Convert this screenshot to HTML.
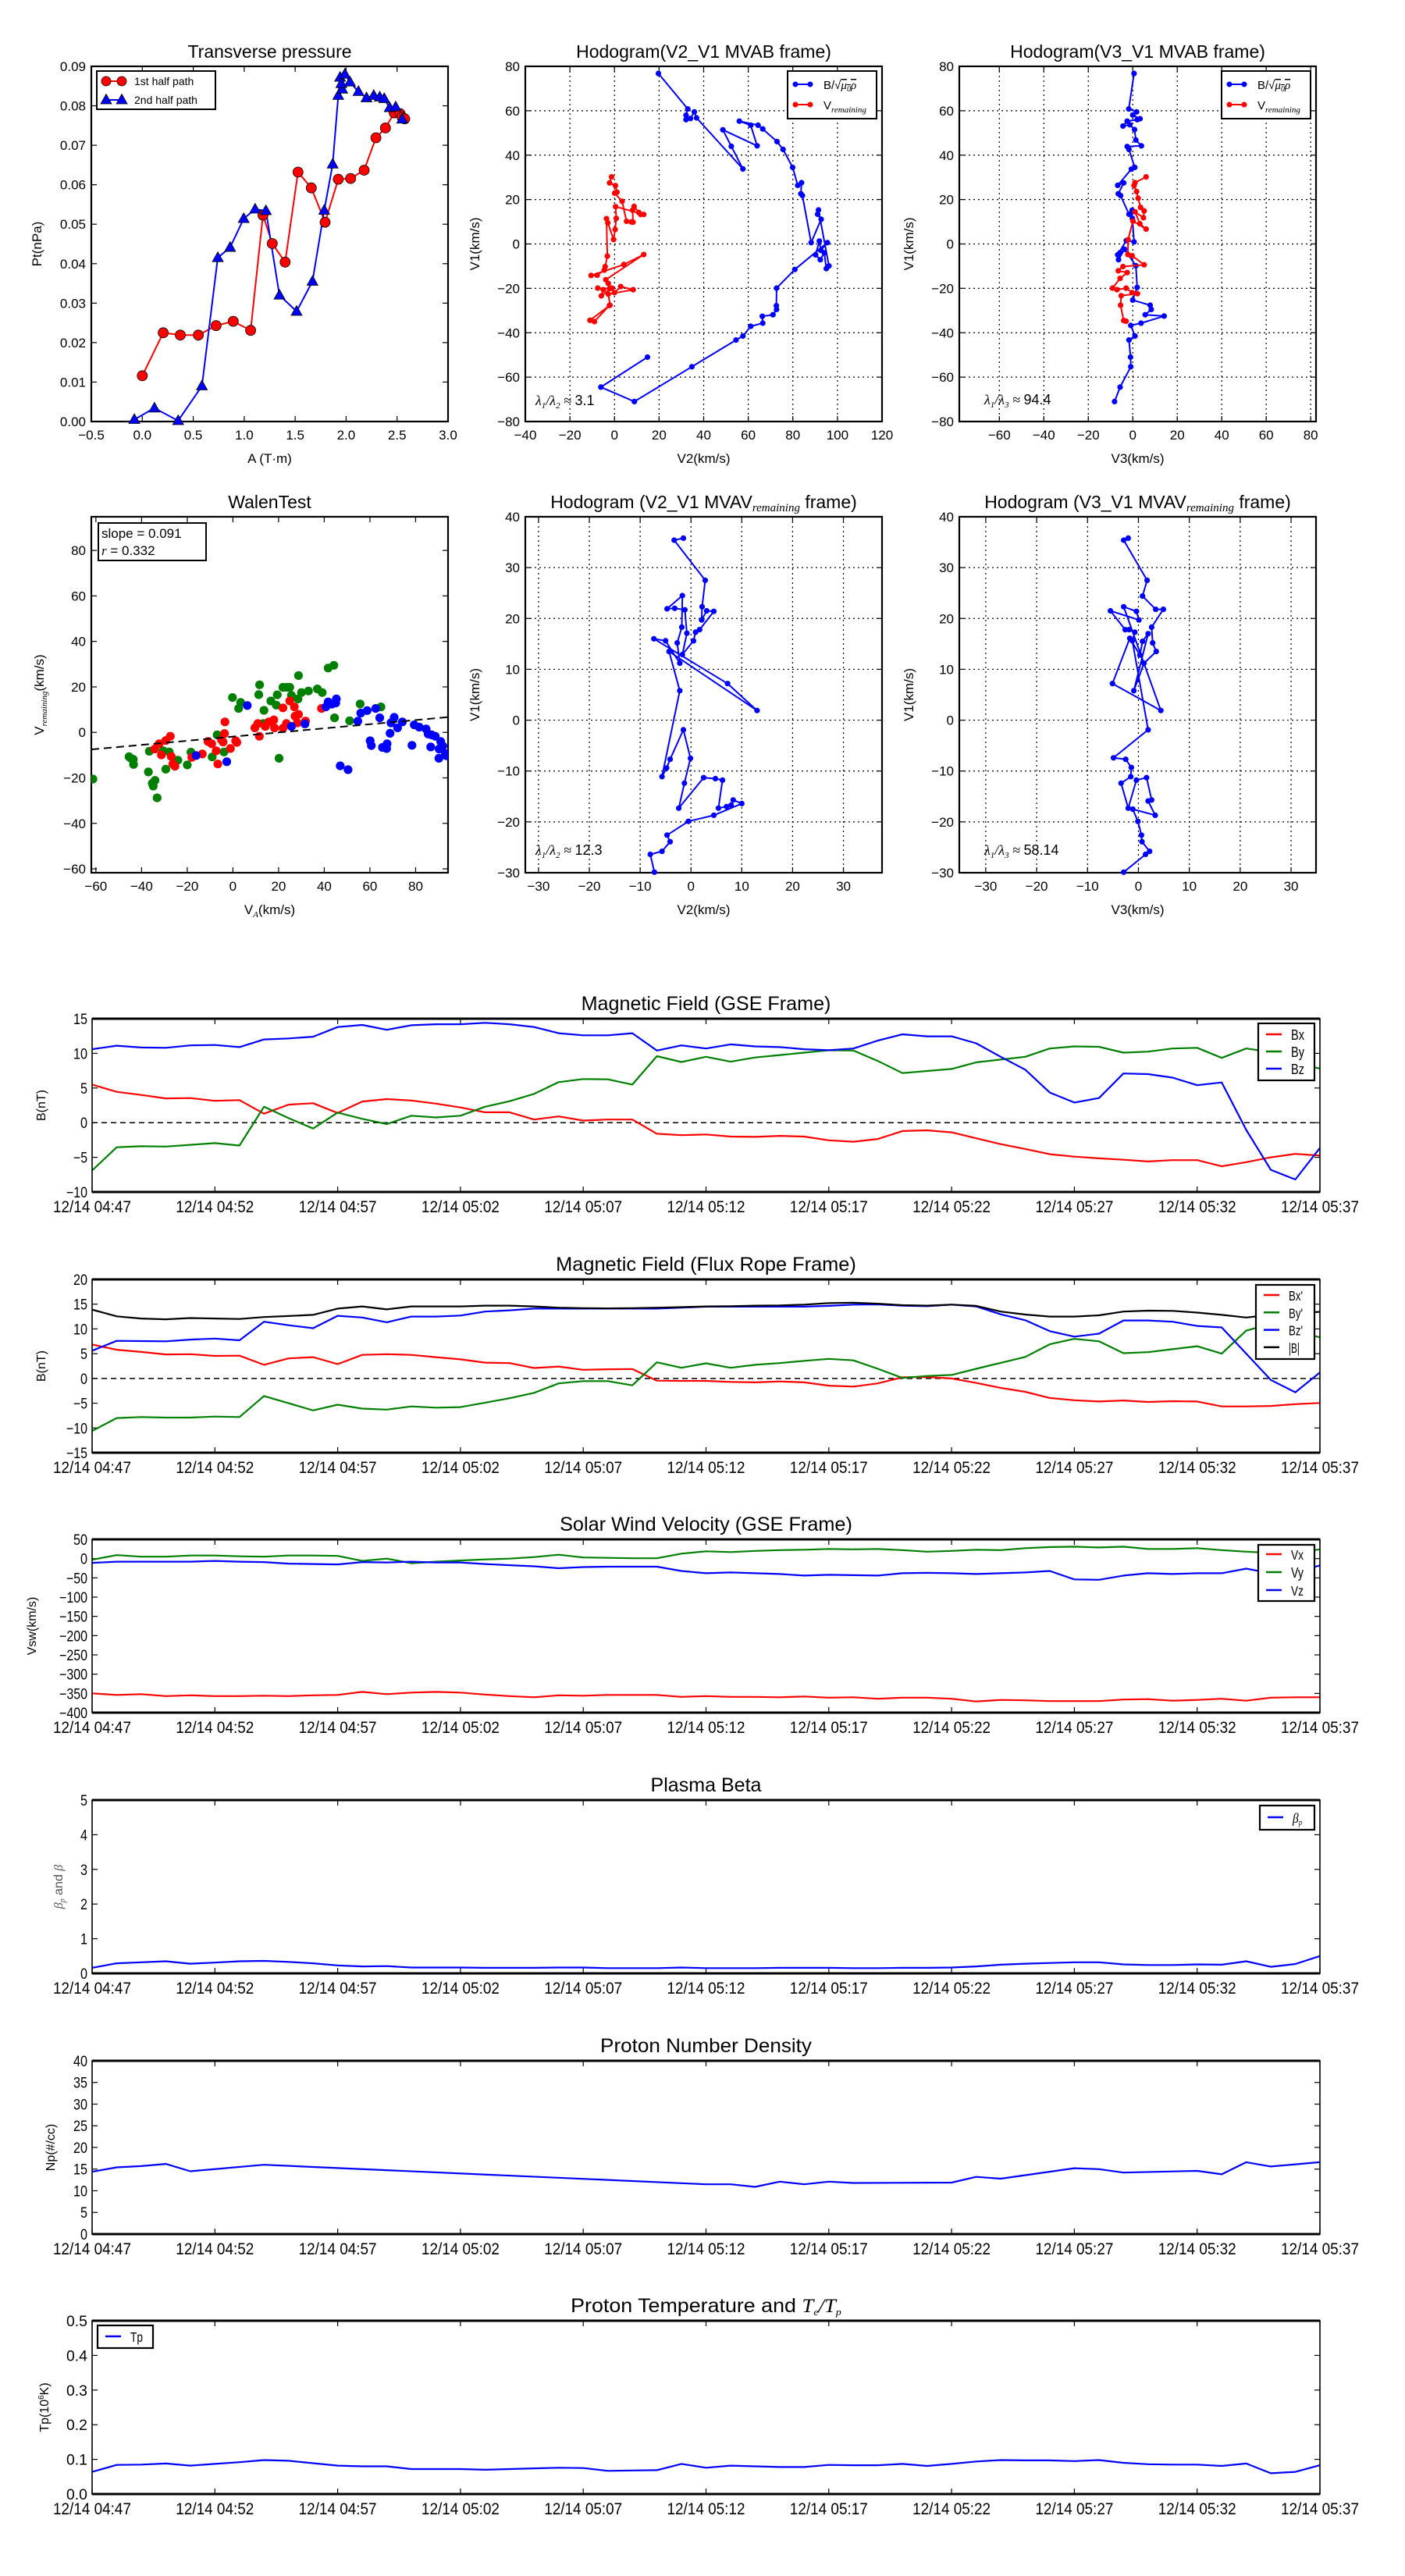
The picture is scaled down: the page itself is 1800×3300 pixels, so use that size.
<!DOCTYPE html>
<html><head><meta charset="utf-8"><title>Flux rope analysis</title>
<style>
html,body{margin:0;padding:0;background:#fff;}
svg{display:block;font-family:"Liberation Sans",sans-serif;}
</style></head>
<body>
<svg id="chart" width="1800" height="3300" viewBox="0 0 1800 3300" xmlns="http://www.w3.org/2000/svg"></svg>
<script>
// ---------- data: transverse pressure ----------
const pt1A = [0.0,0.205,0.373,0.55,0.724,0.892,1.063,1.184,1.275,1.402,1.528,1.658,1.794,1.923,2.044,2.177,2.292,2.386,2.472,2.53,2.55,2.575];
const pt1P = [0.0116,0.0225,0.0219,0.0219,0.0243,0.0254,0.0231,0.0523,0.0451,0.0404,0.0632,0.0592,0.0505,0.0614,0.0616,0.0637,0.0719,0.0744,0.0782,0.078,0.0771,0.0767];
const pt2A = [-0.078,0.119,0.352,0.585,0.741,0.862,0.995,1.107,1.213,1.346,1.514,1.67,1.785,1.868,1.923,1.941,1.962,1.953,1.988,2.038,2.121,2.2,2.271,2.33,2.374,2.427,2.486,2.55];
const pt2P = [0.0005,0.0034,0.0002,0.009,0.0415,0.0441,0.0514,0.0538,0.0534,0.032,0.0279,0.0355,0.0535,0.0652,0.0826,0.0872,0.0842,0.0856,0.088,0.086,0.0836,0.082,0.0826,0.0822,0.0818,0.0795,0.0797,0.0766];
// ---------- data: MVAB hodograms ----------
const hbV2 = [19.7,32.9,32.1,32.1,34.1,35.8,36.8,57.6,52.4,48.6,64,61.1,56,64.4,66.5,72.9,75.6,79.9,82.2,83.9,83.6,84.3,88.2,92.7,91.1,91.5,96.2,95,94.1,92.3,90.2,91.9,92.5,95.5,80.9,72.7,72.6,72.7,71.1,66.3,66.5,61.1,57.6,54.5,34.7,8.9,-6.1,14.8];
const hbV1 = [76.8,60.8,58,56,56.5,59.5,56.8,33.8,44,51.4,44.2,53.5,55.3,53.5,51.8,46.1,42.6,34.5,26.4,27.6,22.6,21.8,0.6,11.1,13.4,15.3,-9.9,-11.1,-4,-7.1,-4.9,1.3,-2.9,0.6,-11.5,-19.9,-27.8,-29.5,-31.9,-32.6,-35.7,-37.1,-41.5,-43.3,-55.3,-71,-64.5,-51];
const hvV2 = [-1.3,-2.2,0.4,1.1,0.1,3.4,5.4,7.5,8.3,8.1,8.8,10.9,11.7,13.1,0.5,0.8,0.3,-0.4,-3,-3.6,-3.2,-4.2,-4.6,-7.8,-10.5,4.2,13.1,-3.9,-2.8,-2.2,-7.5,-5,-5.9,-1.2,0,2.8,8.4,-2.8,-2,-11,-9,-2.3];
const hvV1 = [30.2,27.5,26.3,23.3,22.9,19.2,10.2,9.9,9.8,15.2,16.9,14.2,13.3,13.3,16.8,11.5,6.5,2,9.5,11.4,-5.5,-10.2,-11.8,-14.1,-14.2,-9.3,-4.8,-16.1,-17.8,-20.1,-19.9,-20.6,-23.4,-19.9,-21.9,-19.2,-20.6,-22.6,-27.6,-34.4,-35,-27.7];
const hbV3 = [0.6,-1.8,1.7,0,3.3,2,-2.5,-4.4,-1.3,0.8,1.4,3.9,-2.5,-1.7,0.9,-0.6,-6.8,-4.1,-6.5,-5.5,-1.7,-0.3,-0.2,0.6,-2.9,-6.8,-5.7,-6.4,-3.7,1.4,2,0,7.8,8.3,5.6,14.1,3.7,-0.9,1,-1.7,-1,-0.9,-5.7,-8.2];
const hbV1b = [76.8,60.8,59.5,58.1,56.4,56,55.3,53.1,53.7,51.5,46.8,44.2,43.9,42.6,34.5,33.7,26.4,27.5,22.6,21.8,13.4,15.2,11.5,0.9,1.5,-4.9,-3.9,-7.1,-2.4,-9.8,-19.6,-25.3,-27.6,-29.5,-31.9,-32.5,-35.7,-36.7,-41.5,-43.3,-51,-55.3,-64.5,-71];
const hvV3 = [6,1,0.6,1.7,2.4,3.5,5.1,4.8,1,3.2,6,0.1,-2.1,-2.2,-0.3,5.1,-4.4,-6.5,-2.5,-5.7,-9.1,-7.1,-3,-0.3,2.1,-5.2,-5.5,-4.1,-3];
const hvV1b = [30.2,27.6,26.3,23.6,20.6,16.5,14.9,11.8,14.5,9.1,6.7,10.3,1.9,-4.8,-5.3,-9.4,-10.2,-12.1,-12.9,-15.5,-19.9,-20.6,-19.9,-21.9,-22.4,-23.3,-27.6,-34.5,-34.8];
// ---------- data: MVAV hodograms ----------
const hrV2 = [-1.5,-3.3,2.8,2.2,2.1,3.1,4.5,1.7,0.9,0.5,-1.7,-0.8,-1.2,-3.2,-4.7,-1.7,-1.8,-2.7,-2.2,-5,-7.3,7.2,13,-4.3,-2.2,-5.7,-4.8,-4.1,-1.5,-0.1,-1.3,-2.4,2.5,4.8,6.2,5.4,7,7.9,8.3,10,4.5,-0.5,-4.7,-4.1,-5.7,-8,-7.2];
const hrV1 = [35.8,35.4,27.5,22.3,19.7,21.5,21.4,17.8,17.3,15.6,12.9,17.1,21.7,22,21.9,24.5,18.3,15.2,11.2,15.6,16,7.2,1.9,13.5,5.8,-11.1,-9.4,-7.7,-1.9,-7.5,-12.4,-17.3,-11.3,-11.5,-11.8,-17.3,-17,-16.7,-15.7,-16.4,-18.7,-19.9,-22.6,-23.9,-25.8,-26.4,-29.9];
const hrV3 = [-2,-2.9,1.7,0.8,3.4,4.9,2.6,2.8,3.5,1.1,-0.9,1.9,0.8,0.3,-1.7,-5.1,4.4,-2.9,-0.4,0.1,-5.5,-2.6,-1.8,-0.7,-1.2,1.9,-4.9,-2.5,-1.4,-1.5,-3.4,-2,-0.4,1.6,2.6,1.9,3.3,-1.1,-0.1,0.6,0.7,2.2,1.4,-2.9];
const hrV1b = [35.8,35.4,27.5,24.4,21.8,21.8,18.3,15.2,13.5,11.2,5.8,17,15.5,12.8,16.1,7.2,1.9,22.3,21.4,19.7,21.5,17.8,17.8,17.3,15.6,-1.9,-7.4,-7.7,-9.3,-11.1,-12.4,-17.3,-11.8,-11.3,-15.7,-15.9,-18.7,-17.5,-19.9,-22.6,-23.9,-25.8,-26.4,-29.9];
// ---------- data: Walen test ----------
const walGreenX = [-61.3,-45.5,-44.5,-43.6,-43.5,-36.6,-37,-35.3,-34.9,-34.1,-33.2,-30.5,-29.4,-27.9,-24.1,-20,-18.4,-9.1,-6.9,-3.9,-0.2,3.4,2.5,11.3,11.7,13.3,13.6,16.6,19,19.4,20.2,21.9,23.4,24.9,25.6,28.5,28.7,30,33.1,37,39.1,41.7,44.2,44.5,51.1,55.7,64.8];
const walGreenY = [-20.5,-10.7,-11.5,-11.9,-14.1,-8.3,-17.4,-22.4,-23.6,-21.1,-28.8,-8.1,-16.2,-8.6,-12.2,-14.3,-8.7,-10.8,-1.1,-8.6,15.3,13.2,10.5,16.6,20.9,3.9,9.7,13.8,12,16.5,-11.4,19.8,19.8,19.8,16.3,14.7,25,17.5,18.2,19.1,17.5,28.3,29.5,6.4,5.1,12.5,11.2];
const walRedX = [-3.5,-3.7,-4.3,-5,-1.1,1.2,1.7,-10.9,-9.3,-7.3,-6.6,-13.4,-18,-34.2,-32.3,-31.3,-29.4,-27.4,-27,-26.3,-25.4,9.6,10.9,11.6,14.2,15.7,17.9,18.2,21.9,21.9,23.4,24.9,26.9,27.2,28.7,28.2,31.8,38.8];
const walRedY = [4.6,-0.5,-4.2,-3.3,-7.1,-3.7,-4.4,-4,-5,-8.1,-13.9,-9.5,-11,-7.3,-5,-9.9,-3.6,-1.7,-10.6,-13.9,-14.9,2,3.9,-1.7,2.6,4.6,5.5,2,10.8,1.8,3.9,13.8,11.2,7.1,7.9,4.2,5,10.5];
const walBlueX = [-16.1,-2.7,6.3,25.6,31.5,40.7,41.7,43.3,45.3,45,47,50.4,54.7,56,58.8,60.1,60.6,62.5,64.3,65.5,67.3,67.5,68.8,69.2,70.6,72.1,74.2,78.4,79.4,81.6,84.6,85.5,87,88.6,86.6,91,90.3,91.9,90.2,93,93.5];
const walBlueY = [-10.2,-12.9,11.8,2.6,3.7,11.2,13.4,12.4,14.7,12.9,-14.7,-16.4,4.9,8.5,9.6,-3.7,-5.8,10.5,6.4,-6.6,-7.1,-5,-0.4,4.2,6.6,2,4.6,-5.7,3.3,2.3,1.5,-0.7,-1.1,-1.7,-6.4,-4,-7.3,-6,-11.4,-9.3,-10.3];
const walSlope = 0.091;
const walIntercept = -1.86;
// ---------- data: time series (1-min cadence, 12/14 04:47 - 05:37) ----------
const timeTicks = ['12/14 04:47','12/14 04:52','12/14 04:57','12/14 05:02','12/14 05:07','12/14 05:12','12/14 05:17','12/14 05:22','12/14 05:27','12/14 05:32','12/14 05:37'];
const gseBx = [5.5,4.45,4.0,3.5,3.55,3.15,3.25,1.3,2.6,2.8,1.4,3.05,3.4,3.2,2.75,2.2,1.5,1.5,0.45,0.9,0.3,0.45,0.45,-1.6,-1.8,-1.7,-2.0,-2.05,-1.9,-2.0,-2.55,-2.75,-2.35,-1.2,-1.1,-1.4,-2.25,-3.1,-3.8,-4.55,-4.9,-5.15,-5.35,-5.6,-5.4,-5.4,-6.3,-5.7,-5.0,-4.5,-4.75];
const gseBy = [-6.9,-3.55,-3.4,-3.45,-3.2,-2.95,-3.3,2.3,0.65,-0.85,1.45,0.55,-0.2,1.0,0.75,1.0,2.3,3.1,4.15,5.85,6.3,6.25,5.5,9.6,8.75,9.5,8.8,9.4,9.75,10.1,10.45,10.4,8.9,7.15,7.45,7.75,8.7,9.1,9.5,10.7,11.0,10.95,10.1,10.25,10.7,10.8,9.35,10.7,10.2,8.6,7.8];
const gseBz = [10.6,11.1,10.85,10.8,11.15,11.2,10.9,12.0,12.15,12.4,13.8,14.1,13.4,14.05,14.2,14.2,14.4,14.2,13.8,12.9,12.6,12.6,12.9,10.4,11.15,10.7,11.3,11.0,10.9,10.6,10.45,10.7,11.85,12.75,12.45,12.45,11.45,9.5,7.65,4.35,2.9,3.55,7.1,7.0,6.5,5.4,5.8,-1.05,-6.8,-8.2,-3.65];
const frBx = [6.85,5.8,5.35,4.85,4.9,4.55,4.6,2.75,4.05,4.3,2.9,4.75,4.9,4.75,4.3,3.85,3.2,3.1,2.1,2.4,1.75,1.85,1.9,-0.45,-0.5,-0.5,-0.7,-0.8,-0.6,-0.8,-1.45,-1.65,-1.0,0.25,0.3,0.0,-0.9,-1.9,-2.7,-3.95,-4.4,-4.65,-4.45,-4.75,-4.6,-4.65,-5.65,-5.65,-5.55,-5.2,-4.95];
const frBy = [-10.6,-8.0,-7.8,-7.9,-7.9,-7.7,-7.8,-3.55,-5.0,-6.45,-5.3,-6.1,-6.3,-5.65,-5.9,-5.8,-4.9,-4.0,-2.9,-1.0,-0.55,-0.55,-1.4,3.25,2.15,3.05,2.15,2.75,3.1,3.55,3.95,3.65,1.95,0.1,0.5,0.7,1.95,3.15,4.35,6.9,8.0,7.5,5.1,5.3,5.9,6.5,5.0,9.65,11.0,9.5,8.3];
const frBz = [5.6,7.6,7.55,7.5,7.85,8.05,7.7,11.45,10.75,10.15,12.65,12.3,11.35,12.5,12.5,12.7,13.5,13.75,14.1,14.1,14.1,14.1,14.1,14.1,14.3,14.5,14.5,14.5,14.5,14.5,14.65,14.9,14.95,14.7,14.6,14.9,14.55,12.95,11.75,9.55,8.45,9.05,11.7,11.7,11.45,10.6,10.3,5.0,-0.3,-2.8,1.2];
const frBt = [13.9,12.55,12.1,11.95,12.2,12.1,12.0,12.4,12.6,12.85,14.1,14.55,13.95,14.55,14.55,14.55,14.7,14.7,14.55,14.3,14.2,14.15,14.2,14.3,14.4,14.55,14.6,14.7,14.75,14.9,15.2,15.3,15.1,14.8,14.7,14.9,14.65,13.5,12.9,12.5,12.5,12.75,13.5,13.7,13.65,13.3,12.85,12.3,12.85,13.15,13.45];
const swVx = [-350,-354,-352,-357,-355,-357,-357,-356,-357,-355,-354,-346,-352,-348,-346,-348,-353,-357,-360,-355,-356,-354,-354,-354,-359,-357,-359,-359,-360,-358,-361,-360,-364,-361,-361,-364,-371,-367,-368,-370,-370,-370,-366,-365,-369,-367,-364,-369,-361,-360,-360];
const swVy = [-3,9,5,5,8,8,6,5,8,8,7,-6,0,-12,-8,-5,-2,0,4,10,3,2,1,1,13,19,17,20,22,23,25,24,25,22,18,20,23,22,27,30,31,29,31,25,25,27,22,18,15,16,24];
const swVz = [-11,-8,-8,-8,-8,-6,-8,-9,-13,-14,-15,-9,-10,-8,-10,-10,-14,-17,-20,-25,-22,-21,-21,-21,-32,-38,-36,-38,-40,-44,-42,-43,-44,-38,-37,-38,-40,-38,-36,-32,-54,-55,-44,-38,-40,-38,-38,-26,-38,-35,-18];
const betaP = [0.16,0.29,0.32,0.35,0.28,0.31,0.35,0.36,0.33,0.29,0.23,0.2,0.21,0.17,0.17,0.17,0.16,0.16,0.16,0.17,0.17,0.15,0.15,0.15,0.17,0.15,0.15,0.15,0.16,0.16,0.16,0.15,0.15,0.16,0.16,0.17,0.2,0.25,0.28,0.3,0.32,0.32,0.26,0.24,0.24,0.26,0.25,0.35,0.19,0.27,0.5];
const npDensity = [14.4,15.4,15.7,16.2,14.5,null,null,16.0,null,null,null,null,null,null,null,null,null,null,null,null,null,null,null,null,null,11.5,11.5,10.9,12.1,11.5,12.1,11.8,null,null,null,11.9,13.2,12.8,null,null,15.2,15.0,14.2,null,null,14.6,13.8,16.6,15.6,null,16.6];
const tpTemp = [0.064,0.084,0.085,0.088,0.082,0.087,0.092,0.098,0.096,0.089,0.082,0.080,0.080,0.072,0.072,0.072,0.070,0.072,0.074,0.076,0.075,0.067,0.068,0.069,0.087,0.076,0.082,0.080,0.078,0.078,0.084,0.083,0.083,0.087,0.081,0.087,0.094,0.098,0.097,0.097,0.095,0.098,0.090,0.086,0.085,0.085,0.081,0.088,0.060,0.064,0.083];

// ---------- helpers ----------
const NS = 'http://www.w3.org/2000/svg';
const svg = document.getElementById('chart');
const fitList = [];
function el(tag, attrs, parent, name) {
  const e = document.createElementNS(NS, tag);
  for (const k in attrs) e.setAttribute(k, attrs[k]);
  
  
  (parent || svg).appendChild(e);
  return e;
}
function txt(parent, x, y, s, size, anchor, name, extra) {
  const ex = Object.assign({}, extra || {});
  const fit = ex.fitLen; delete ex.fitLen;
  const a = Object.assign({x: x, y: y, 'font-size': size, 'text-anchor': anchor || 'middle', fill: '#000'}, ex);
  const t = el('text', a, parent, name);
  t.textContent = s;
  if (fit) fitList.push([t, fit, x, anchor || 'middle']);
  return t;
}
function applyFits() {
  fitList.forEach(f => {
    const t = f[0];
    let w = 0;
    try { w = t.getComputedTextLength(); } catch (e) { w = 0; }
    if (w > 0) {
      const k = f[1] / w;
      t.setAttribute('transform', 'translate(' + f[2] + ',0) scale(' + k.toFixed(4) + ',1) translate(' + (-f[2]) + ',0)');
    }
  });
}
function lin(d0, d1, r0, r1) { return v => r0 + (v - d0) * (r1 - r0) / (d1 - d0); }
function fmt(v, dec) { const s = v.toFixed(dec); return s.replace('-', '\u2212'); }
function polyline(g, xs, ys, sx, sy, color, w, name) {
  const pts = [];
  for (let i = 0; i < xs.length; i++) { if (ys[i] === null) continue; pts.push(sx(xs[i]).toFixed(1) + ',' + sy(ys[i]).toFixed(1)); }
  return el('polyline', {points: pts.join(' '), fill: 'none', stroke: color, 'stroke-width': w, 'stroke-linejoin': 'round'}, g, name);
}

// ---------- square scatter/hodogram axes ----------
function squareAxes(o) {
  const g = el('g', {}, svg, o.name);
  const sx = lin(o.xd[0], o.xd[1], o.x0, o.x1);
  const sy = lin(o.yd[0], o.yd[1], o.y1, o.y0);
  o.xt.forEach(v => {
    const X = sx(v);
    if (o.grid) el('line', {x1: X, x2: X, y1: o.y0, y2: o.y1, stroke: '#000', 'stroke-width': 1.2, 'stroke-dasharray': '2,4'}, g, 'grid-x');
    el('line', {x1: X, x2: X, y1: o.y1, y2: o.y1 - 7, stroke: '#000', 'stroke-width': 1.2}, g, 'x-tick');
    el('line', {x1: X, x2: X, y1: o.y0, y2: o.y0 + 7, stroke: '#000', 'stroke-width': 1.2}, g, 'x-tick-top');
    txt(g, X, o.y1 + 23, fmt(v, o.xdec), 17, 'middle', 'x-tick-label');
  });
  o.yt.forEach(v => {
    const Y = sy(v);
    if (o.grid) el('line', {x1: o.x0, x2: o.x1, y1: Y, y2: Y, stroke: '#000', 'stroke-width': 1.2, 'stroke-dasharray': '2,4'}, g, 'grid-y');
    el('line', {x1: o.x0, x2: o.x0 + 7, y1: Y, y2: Y, stroke: '#000', 'stroke-width': 1.2}, g, 'y-tick');
    el('line', {x1: o.x1, x2: o.x1 - 7, y1: Y, y2: Y, stroke: '#000', 'stroke-width': 1.2}, g, 'y-tick-right');
    txt(g, o.x0 - 7, Y + 6, fmt(v, o.ydec), 17, 'end', 'y-tick-label');
  });
  el('rect', {x: o.x0, y: o.y0, width: o.x1 - o.x0, height: o.y1 - o.y0, fill: 'none', stroke: '#000', 'stroke-width': 2.2}, g, 'plot-frame');
  const t = txt(g, (o.x0 + o.x1) / 2, o.y0 - 11, '', 23, 'middle', 'plot-title');
  t.innerHTML = o.title;
  const xl = txt(g, (o.x0 + o.x1) / 2, o.y1 + 53, '', 17, 'middle', 'x-axis-title');
  xl.innerHTML = o.xlabel;
  const yl = txt(g, 0, 0, '', 17, 'middle', 'y-axis-title', {transform: 'translate(' + o.ylx + ',' + ((o.y0 + o.y1) / 2) + ') rotate(-90)'});
  yl.innerHTML = o.ylabel;
  return {g: g, sx: sx, sy: sy};
}
function markers(g, xs, ys, sx, sy, color, r, name) {
  for (let i = 0; i < xs.length; i++) {
    el('circle', {cx: sx(xs[i]).toFixed(1), cy: sy(ys[i]).toFixed(1), r: r, fill: color, stroke: name.indexOf('circle-marker') >= 0 ? '#000' : 'none', 'stroke-width': 0.8}, g, name);
  }
}
function triangles(g, xs, ys, sx, sy, color, name) {
  for (let i = 0; i < xs.length; i++) {
    const X = sx(xs[i]), Y = sy(ys[i]);
    el('polygon', {points: (X) + ',' + (Y - 7.5) + ' ' + (X - 7) + ',' + (Y + 5) + ' ' + (X + 7) + ',' + (Y + 5), fill: color, stroke: '#000', 'stroke-width': 0.8}, g, name);
  }
}
const seq = (a, b, s) => { const r = []; for (let v = a; v <= b + 1e-9; v += s) r.push(+v.toFixed(6)); return r; };
const BSQ = 'B/\u221A<tspan font-family="Liberation Serif" font-style="italic" text-decoration="overline">\u03BC<tspan font-size="10" dy="3">0</tspan><tspan dy="-3">\u03C1</tspan></tspan>';
const VREM = 'V<tspan font-family="Liberation Serif" font-style="italic" font-size="11" dy="4">remaining</tspan>';
function hodoLegend(g, x, y, twoEntries) {
  const b = el('g', {}, g, 'legend');
  el('rect', {x: x, y: y, width: 114, height: twoEntries ? 61 : 34, fill: '#fff', stroke: '#000', 'stroke-width': 2}, b, 'legend-frame');
  el('line', {x1: x + 8, x2: x + 31, y1: y + 17, y2: y + 17, stroke: '#0000ff', 'stroke-width': 2}, b, 'legend-line-b');
  el('circle', {cx: x + 10, cy: y + 17, r: 3.5, fill: '#0000ff'}, b, 'legend-marker-b');
  el('circle', {cx: x + 29, cy: y + 17, r: 3.5, fill: '#0000ff'}, b, 'legend-marker-b');
  const t1 = txt(b, x + 46, y + 23, '', 15, 'start', 'legend-entry-b-alfven');
  t1.innerHTML = BSQ;
  if (twoEntries) {
    el('line', {x1: x + 8, x2: x + 31, y1: y + 43, y2: y + 43, stroke: '#ff0000', 'stroke-width': 2}, b, 'legend-line-v');
    el('circle', {cx: x + 10, cy: y + 43, r: 3.5, fill: '#ff0000'}, b, 'legend-marker-v');
    el('circle', {cx: x + 29, cy: y + 43, r: 3.5, fill: '#ff0000'}, b, 'legend-marker-v');
    const t2 = txt(b, x + 46, y + 49, '', 15, 'start', 'legend-entry-v-remaining');
    t2.innerHTML = VREM;
  }
}
function lambdaNote(g, x, y, a, b, val) {
  const t = txt(g, x, y, '', 18, 'start', 'eigenvalue-ratio-label');
  t.innerHTML = '<tspan font-family="Liberation Serif" font-style="italic">\u03BB<tspan font-size="11" dy="4">' + a + '</tspan><tspan dy="-4">/\u03BB</tspan><tspan font-size="11" dy="4">' + b + '</tspan><tspan dy="-4"> \u2248 </tspan></tspan>' + val;
}

// ----- Transverse pressure -----
(function () {
  const a = squareAxes({name: 'transverse-pressure-panel', x0: 117, x1: 574, y0: 85, y1: 540, xd: [-0.5, 3.0], yd: [0, 0.09], xt: seq(-0.5, 3.0, 0.5), yt: seq(0, 0.09, 0.01), xdec: 1, ydec: 2, title: 'Transverse pressure', xlabel: 'A (T\u00B7m)', ylabel: 'Pt(nPa)', ylx: 53});
  polyline(a.g, pt1A, pt1P, a.sx, a.sy, '#ff0000', 2, 'first-half-path-line');
  polyline(a.g, pt2A, pt2P, a.sx, a.sy, '#0000ff', 2, 'second-half-path-line');
  markers(a.g, pt1A, pt1P, a.sx, a.sy, '#ff0000', 6.5, 'circle-marker-first-half');
  triangles(a.g, pt2A, pt2P, a.sx, a.sy, '#0000ff', 'triangle-marker-second-half');
  const lg = el('g', {}, a.g, 'legend');
  el('rect', {x: 124, y: 91, width: 152, height: 49, fill: '#fff', stroke: '#000', 'stroke-width': 2}, lg, 'legend-frame');
  el('line', {x1: 134, x2: 157, y1: 104, y2: 104, stroke: '#ff0000', 'stroke-width': 2}, lg, 'legend-line-first');
  el('circle', {cx: 136, cy: 104, r: 6, fill: '#ff0000', stroke: '#000', 'stroke-width': 0.8}, lg, 'legend-marker-first');
  el('circle', {cx: 156, cy: 104, r: 6, fill: '#ff0000', stroke: '#000', 'stroke-width': 0.8}, lg, 'legend-marker-first');
  txt(lg, 172, 109, '1st half path', 14, 'start', 'legend-entry-first-half');
  el('line', {x1: 134, x2: 157, y1: 128, y2: 128, stroke: '#0000ff', 'stroke-width': 2}, lg, 'legend-line-second');
  triangles(lg, [0], [0], v => 136, v => 128, '#0000ff', 'legend-marker-second');
  triangles(lg, [0], [0], v => 156, v => 128, '#0000ff', 'legend-marker-second');
  txt(lg, 172, 133, '2nd half path', 14, 'start', 'legend-entry-second-half');
})();

// ----- Hodogram V2_V1 MVAB -----
(function () {
  const a = squareAxes({name: 'hodogram-v2-v1-mvab-panel', x0: 673, x1: 1130, y0: 85, y1: 540, xd: [-40, 120], yd: [-80, 80], xt: seq(-40, 120, 20), yt: seq(-80, 80, 20), xdec: 0, ydec: 0, grid: true, title: 'Hodogram(V2_V1 MVAB frame)', xlabel: 'V2(km/s)', ylabel: 'V1(km/s)', ylx: 614});
  polyline(a.g, hbV2, hbV1, a.sx, a.sy, '#0000ff', 2, 'alfven-b-path');
  markers(a.g, hbV2, hbV1, a.sx, a.sy, '#0000ff', 3.6, 'alfven-b-point');
  polyline(a.g, hvV2, hvV1, a.sx, a.sy, '#ff0000', 2, 'v-remaining-path');
  markers(a.g, hvV2, hvV1, a.sx, a.sy, '#ff0000', 3.6, 'v-remaining-point');
  hodoLegend(a.g, 1009, 91, true);
  lambdaNote(a.g, 686, 519, '1', '2', '3.1');
})();

// ----- Hodogram V3_V1 MVAB -----
(function () {
  const a = squareAxes({name: 'hodogram-v3-v1-mvab-panel', x0: 1229, x1: 1686, y0: 85, y1: 540, xd: [-78, 82.4], yd: [-80, 80], xt: seq(-60, 80, 20), yt: seq(-80, 80, 20), xdec: 0, ydec: 0, grid: true, title: 'Hodogram(V3_V1 MVAB frame)', xlabel: 'V3(km/s)', ylabel: 'V1(km/s)', ylx: 1170});
  polyline(a.g, hbV3, hbV1b, a.sx, a.sy, '#0000ff', 2, 'alfven-b-path');
  markers(a.g, hbV3, hbV1b, a.sx, a.sy, '#0000ff', 3.6, 'alfven-b-point');
  polyline(a.g, hvV3, hvV1b, a.sx, a.sy, '#ff0000', 2, 'v-remaining-path');
  markers(a.g, hvV3, hvV1b, a.sx, a.sy, '#ff0000', 3.6, 'v-remaining-point');
  hodoLegend(a.g, 1565, 91, true);
  lambdaNote(a.g, 1261, 518, '1', '3', '94.4');
})();

// ----- Walen test -----
(function () {
  const a = squareAxes({name: 'walen-test-panel', x0: 117, x1: 574, y0: 662, y1: 1118, xd: [-62, 94.2], yd: [-61.7, 94.8], xt: seq(-60, 80, 20), yt: seq(-60, 80, 20), xdec: 0, ydec: 0, title: 'WalenTest', xlabel: 'V<tspan font-family="Liberation Serif" font-style="italic" font-size="11" dy="4">A</tspan><tspan dy="-4">(km/s)</tspan>', ylabel: 'V<tspan font-family="Liberation Serif" font-style="italic" font-size="11" dy="4">remaining</tspan><tspan dy="-4">(km/s)</tspan>', ylx: 56});
  const clip = el('clipPath', {id: 'walclip'}, a.g, 'walen-clip');
  el('rect', {x: 117, y: 662, width: 457, height: 456}, clip, 'walen-clip-rect');
  const pg = el('g', {'clip-path': 'url(#walclip)'}, a.g, 'walen-points');
  markers(pg, walGreenX, walGreenY, a.sx, a.sy, '#008000', 5.6, 'walen-point-green');
  markers(pg, walRedX, walRedY, a.sx, a.sy, '#ff0000', 5.6, 'walen-point-red');
  markers(pg, walBlueX, walBlueY, a.sx, a.sy, '#0000ff', 5.6, 'walen-point-blue');
  const fx = [-62, 94.2];
  const fy = fx.map(v => walSlope * v + walIntercept);
  el('line', {x1: a.sx(fx[0]), y1: a.sy(fy[0]), x2: a.sx(fx[1]), y2: a.sy(fy[1]), stroke: '#000', 'stroke-width': 2, 'stroke-dasharray': '10,6'}, a.g, 'regression-fit-line');
  el('rect', {x: 126, y: 670, width: 138, height: 48, fill: '#fff', stroke: '#000', 'stroke-width': 2}, a.g, 'fit-stats-box');
  txt(a.g, 130, 689, 'slope = ' + walSlope.toFixed(3), 17, 'start', 'slope-label');
  const r = txt(a.g, 130, 711, '', 17, 'start', 'correlation-label');
  r.innerHTML = '<tspan font-family="Liberation Serif" font-style="italic">r</tspan> = 0.332';
})();

// ----- Hodogram MVAV -----
const TITLE_MVAV2 = 'Hodogram (V2_V1 MVAV<tspan font-family="Liberation Serif" font-style="italic" font-size="15" dy="4">remaining</tspan><tspan dy="-4"> frame)</tspan>';
const TITLE_MVAV3 = 'Hodogram (V3_V1 MVAV<tspan font-family="Liberation Serif" font-style="italic" font-size="15" dy="4">remaining</tspan><tspan dy="-4"> frame)</tspan>';
(function () {
  const a = squareAxes({name: 'hodogram-v2-v1-mvav-panel', x0: 673, x1: 1130, y0: 662, y1: 1118, xd: [-32.6, 37.6], yd: [-30, 40], xt: seq(-30, 30, 10), yt: seq(-30, 40, 10), xdec: 0, ydec: 0, grid: true, title: TITLE_MVAV2, xlabel: 'V2(km/s)', ylabel: 'V1(km/s)', ylx: 614});
  polyline(a.g, hrV2, hrV1, a.sx, a.sy, '#0000ff', 2, 'alfven-b-path');
  markers(a.g, hrV2, hrV1, a.sx, a.sy, '#0000ff', 3.6, 'alfven-b-point');
  lambdaNote(a.g, 686, 1095, '1', '2', '12.3');
})();
(function () {
  const a = squareAxes({name: 'hodogram-v3-v1-mvav-panel', x0: 1229, x1: 1686, y0: 662, y1: 1118, xd: [-35.2, 34.9], yd: [-30, 40], xt: seq(-30, 30, 10), yt: seq(-30, 40, 10), xdec: 0, ydec: 0, grid: true, title: TITLE_MVAV3, xlabel: 'V3(km/s)', ylabel: 'V1(km/s)', ylx: 1170});
  polyline(a.g, hrV3, hrV1b, a.sx, a.sy, '#0000ff', 2, 'alfven-b-path');
  markers(a.g, hrV3, hrV1b, a.sx, a.sy, '#0000ff', 3.6, 'alfven-b-point');
  lambdaNote(a.g, 1261, 1095, '1', '3', '58.14');
})();

// ---------- time series panels ----------
const NPTS = 51;
const idx = []; for (let i = 0; i < NPTS; i++) idx.push(i);
function timePanel(o) {
  const X0 = 118, X1 = 1691;
  const g = el('g', {}, svg, o.name);
  const sx = lin(0, NPTS - 1, X0, X1);
  const sy = lin(o.yd[0], o.yd[1], o.y1, o.y0);
  const tt = txt(g, (X0 + X1) / 2, o.y0 - 11, '', 25, 'middle', 'panel-title', {fitLen: o.titleLen});
  tt.innerHTML = o.title;
  timeTicks.forEach((s, k) => {
    const X = sx(k * 5);
    el('line', {x1: X, x2: X, y1: o.y1, y2: o.y1 - 7, stroke: '#000', 'stroke-width': 1.2}, g, 'x-tick');
    el('line', {x1: X, x2: X, y1: o.y0, y2: o.y0 + 7, stroke: '#000', 'stroke-width': 1.2}, g, 'x-tick-top');
    txt(g, X, o.y1 + 26, s, 21, 'middle', 'x-tick-label', {fitLen: 100});
  });
  o.yt.forEach(v => {
    const Y = sy(v);
    el('line', {x1: X0, x2: X0 + 7, y1: Y, y2: Y, stroke: '#000', 'stroke-width': 1.2}, g, 'y-tick');
    el('line', {x1: X1, x2: X1 - 7, y1: Y, y2: Y, stroke: '#000', 'stroke-width': 1.2}, g, 'y-tick-right');
    const s = fmt(v, o.ydec);
    txt(g, X0 - 6, Y + 7, s, 19, 'end', 'y-tick-label', {fitLen: s.length * 9});
  });
  const yl = txt(g, 0, 0, '', 16, 'middle', 'y-axis-title', {transform: 'translate(' + o.ylx + ',' + ((o.y0 + o.y1) / 2) + ') rotate(-90)', fill: o.ylColor || '#000'});
  yl.innerHTML = o.ylabel;
  if (o.zero) el('line', {x1: X0, x2: X1, y1: sy(0), y2: sy(0), stroke: '#000', 'stroke-width': 1.5, 'stroke-dasharray': '7,5'}, g, 'zero-line');
  const clipId = 'clip-' + o.name;
  const cp = el('clipPath', {id: clipId}, g, 'panel-clip');
  el('rect', {x: X0, y: o.y0, width: X1 - X0, height: o.y1 - o.y0}, cp, 'panel-clip-rect');
  const sg = el('g', {'clip-path': 'url(#' + clipId + ')'}, g, 'series-group');
  o.series.forEach(s => polyline(sg, idx, s.vals, sx, sy, s.color, 2.2, s.name));
  el('rect', {x: X0, y: o.y0, width: X1 - X0, height: o.y1 - o.y0, fill: 'none', stroke: '#000', 'stroke-width': 1.6}, g, 'plot-frame');
  el('line', {x1: X0, x2: X1, y1: o.y0, y2: o.y0, stroke: '#000', 'stroke-width': 3}, g, 'frame-top');
  el('line', {x1: X0, x2: X1, y1: o.y1, y2: o.y1, stroke: '#000', 'stroke-width': 3}, g, 'frame-bottom');
  if (o.legend) {
    const L = o.legend;
    const lg = el('g', {}, g, 'legend');
    el('rect', {x: L.x, y: L.y, width: L.w, height: L.h, fill: '#fff', stroke: '#000', 'stroke-width': 2.2}, lg, 'legend-frame');
    o.series.forEach((s, k) => {
      const Y = L.y + L.first + k * L.step;
      el('line', {x1: L.x + 10, x2: L.x + 30, y1: Y, y2: Y, stroke: s.color, 'stroke-width': 2.5}, lg, 'legend-swatch');
      const t = txt(lg, L.x + 42, Y + 7, '', 18, 'start', 'legend-entry-' + s.name, {fitLen: s.labelLen});
      t.innerHTML = s.label;
    });
  }
  return g;
}

timePanel({name: 'magnetic-field-gse-panel', y0: 1305, y1: 1527, yd: [-10, 15], yt: seq(-10, 15, 5), ydec: 0, zero: true,
  title: 'Magnetic Field (GSE Frame)', titleLen: 320, ylabel: 'B(nT)', ylx: 58,
  series: [{vals: gseBx, color: '#ff0000', name: 'bx-line', label: 'Bx', labelLen: 17},
           {vals: gseBy, color: '#008000', name: 'by-line', label: 'By', labelLen: 17},
           {vals: gseBz, color: '#0000ff', name: 'bz-line', label: 'Bz', labelLen: 17}],
  legend: {x: 1612, y: 1311, w: 72, h: 73, first: 14, step: 22}});

timePanel({name: 'magnetic-field-flux-rope-panel', y0: 1639, y1: 1861, yd: [-15, 20], yt: seq(-15, 20, 5), ydec: 0, zero: true,
  title: 'Magnetic Field (Flux Rope Frame)', titleLen: 385, ylabel: 'B(nT)', ylx: 58,
  series: [{vals: frBx, color: '#ff0000', name: 'bx-prime-line', label: "Bx'", labelLen: 18},
           {vals: frBy, color: '#008000', name: 'by-prime-line', label: "By'", labelLen: 18},
           {vals: frBz, color: '#0000ff', name: 'bz-prime-line', label: "Bz'", labelLen: 18},
           {vals: frBt, color: '#000000', name: 'b-magnitude-line', label: '|B|', labelLen: 14}],
  legend: {x: 1609, y: 1646, w: 75, h: 95, first: 13, step: 22.3}});

timePanel({name: 'solar-wind-velocity-panel', y0: 1972, y1: 2194, yd: [-400, 50], yt: seq(-400, 50, 50), ydec: 0,
  title: 'Solar Wind Velocity (GSE Frame)', titleLen: 375, ylabel: 'Vsw(km/s)', ylx: 46,
  series: [{vals: swVx, color: '#ff0000', name: 'vx-line', label: 'Vx', labelLen: 16},
           {vals: swVy, color: '#008000', name: 'vy-line', label: 'Vy', labelLen: 16},
           {vals: swVz, color: '#0000ff', name: 'vz-line', label: 'Vz', labelLen: 16}],
  legend: {x: 1612, y: 1979, w: 72, h: 72, first: 12, step: 23}});

timePanel({name: 'plasma-beta-panel', y0: 2306, y1: 2528, yd: [0, 5], yt: seq(0, 5, 1), ydec: 0,
  title: 'Plasma Beta', titleLen: 142, ylx: 80, ylColor: '#555',
  ylabel: '<tspan font-family="Liberation Serif" font-style="italic">\u03B2<tspan font-size="10" dy="3">p</tspan></tspan><tspan dy="-3"> and </tspan><tspan font-family="Liberation Serif" font-style="italic">\u03B2</tspan>',
  series: [{vals: betaP, color: '#0000ff', name: 'beta-p-line', label: '<tspan font-family="Liberation Serif" font-style="italic">\u03B2<tspan font-size="10" dy="3">p</tspan></tspan>', labelLen: 12}],
  legend: {x: 1614, y: 2313, w: 70, h: 31, first: 15, step: 22}});

timePanel({name: 'proton-density-panel', y0: 2640, y1: 2862, yd: [0, 40], yt: seq(0, 40, 5), ydec: 0,
  title: 'Proton Number Density', titleLen: 271, ylabel: 'Np(#/cc)', ylx: 70,
  series: [{vals: npDensity, color: '#0000ff', name: 'np-line', label: 'Np', labelLen: 16}]});

timePanel({name: 'proton-temperature-panel', y0: 2973, y1: 3195, yd: [0, 0.5], yt: seq(0, 0.5, 0.1), ydec: 1,
  title: 'Proton Temperature and <tspan font-family="Liberation Serif" font-style="italic">T<tspan font-size="13" dy="4">e</tspan><tspan dy="-4">/T</tspan><tspan font-size="13" dy="4">p</tspan></tspan>', titleLen: 347,
  ylabel: 'Tp(10<tspan font-size="10" dy="-6">6</tspan><tspan dy="6">K)</tspan>', ylx: 62,
  series: [{vals: tpTemp, color: '#0000ff', name: 'tp-line', label: 'Tp', labelLen: 16}],
  legend: {x: 125, y: 2979, w: 71, h: 29, first: 14, step: 22}});

applyFits();
</script>
</body></html>
